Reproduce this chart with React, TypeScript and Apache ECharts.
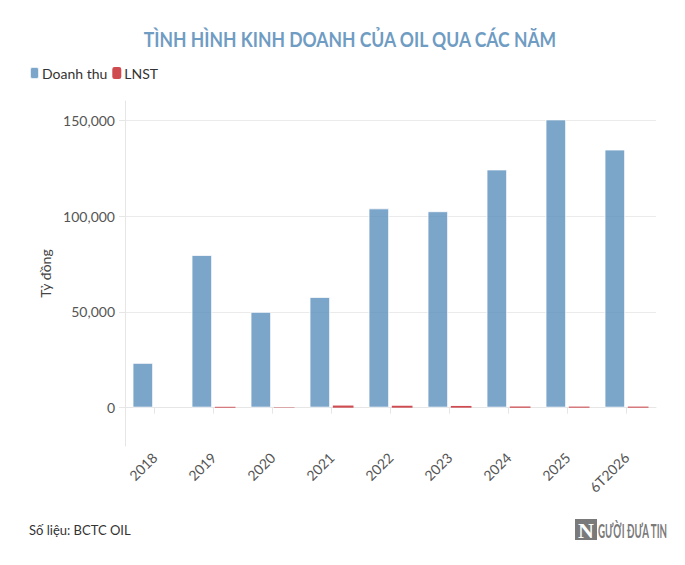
import React, { useEffect, useRef } from "react";
import * as echarts from "echarts";

const categories = ["2018", "2019", "2020", "2021", "2022", "2023", "2024", "2025", "6T2026"];
const doanhThu = [23400, 79700, 50000, 57800, 104000, 102500, 124300, 150400, 134700];
const lnst: (number | null)[] = [null, 450, 200, 1100, 1000, 900, 550, 550, 550];
const yTicks = [0, 50000, 100000, 150000];

const FONT = "Lato, 'Open Sans', 'Noto Sans', sans-serif";

export default function App() {
  const ref = useRef<HTMLDivElement>(null);
  useEffect(() => {
    if (!ref.current) return;
    const chart = echarts.init(ref.current, undefined, { renderer: "svg" });
    chart.setOption({
      animation: false,
      backgroundColor: "#ffffff",
      textStyle: { fontFamily: FONT },
      legend: {
        left: 24,
        top: 61,
        itemWidth: 9,
        itemHeight: 12,
        itemGap: 5,
        icon: "roundRect",
        textStyle: { fontSize: 14, color: "#333", fontFamily: FONT, padding: [0, 0, 0, -2] },
        data: ["Doanh thu", "LNST"],
      },
      grid: { left: 125, right: 29, top: 101, bottom: 119, containLabel: false },
      xAxis: {
        type: "category",
        data: categories,
        axisLine: { show: true, lineStyle: { color: "#e6e6e6" } },
        axisTick: { show: true, alignWithLabel: true, length: 6, lineStyle: { color: "#e6e6e6" } },
        axisLabel: { rotate: 45, fontSize: 14, color: "#555", fontFamily: FONT, margin: 9 },
      },
      yAxis: {
        type: "value",
        min: -20000,
        max: 160000,
        name: "Tỷ đồng",
        nameLocation: "middle",
        nameGap: 69,
        nameTextStyle: { fontSize: 14, color: "#444", fontFamily: FONT },
        axisLine: { show: true, lineStyle: { color: "#e6e6e6" } },
        axisTick: { show: true, length: 6, customValues: yTicks, lineStyle: { color: "#e6e6e6" } },
        axisLabel: {
          customValues: yTicks,
          fontSize: 14,
          color: "#555",
          fontFamily: FONT,
          margin: 10,
          formatter: (v: number) => v.toLocaleString("en-US"),
        },
        splitLine: { show: true, lineStyle: { color: "#ebebeb" } },
      },
      series: [
        {
          name: "Doanh thu",
          type: "bar",
          data: doanhThu,
          barWidth: "35%",
          barGap: "13%",
          itemStyle: { color: "#5a8fbb", opacity: 0.8, borderColor: "#ffffff", borderWidth: 1 },
        },
        {
          name: "LNST",
          type: "bar",
          data: lnst,
          barWidth: "35%",
          itemStyle: { color: "#c41e24", opacity: 0.8 },
        },
      ],
      graphic: [
        {
          type: "text",
          x: 350,
          y: 39,
          scaleX: 0.835,
          style: {
            text: "TÌNH HÌNH KINH DOANH CỦA OIL QUA CÁC NĂM",
            fontSize: 21,
            fontWeight: "bold",
            fontFamily: FONT,
            fill: "#6f9cc3",
            textAlign: "center",
            textVerticalAlign: "middle",
          },
        },
        {
          type: "text",
          x: 29,
          y: 530,
          style: {
            text: "Số liệu: BCTC OIL",
            fontSize: 13,
            fontFamily: FONT,
            fill: "#333",
            textAlign: "left",
            textVerticalAlign: "middle",
          },
        },
        {
          type: "rect",
          shape: { x: 575, y: 519, width: 22, height: 21 },
          style: { fill: "#7a7a7a" },
        },
        {
          type: "text",
          x: 586,
          y: 530,
          style: {
            text: "N",
            fontSize: 22,
            fontWeight: "bold",
            fontFamily: "'Liberation Serif', 'DejaVu Serif', serif",
            fill: "#ffffff",
            textAlign: "center",
            textVerticalAlign: "middle",
          },
        },
        {
          type: "text",
          x: 598,
          y: 531,
          scaleX: 0.54,
          style: {
            text: "GƯỜI ĐƯA TIN",
            fontSize: 18,
            fontWeight: "bold",
            fontFamily: FONT,
            fill: "#7a7a7a",
            textAlign: "left",
            textVerticalAlign: "middle",
          },
        },
      ],
    });
    return () => chart.dispose();
  }, []);
  return (
    <div
      ref={ref}
      style={{ position: "absolute", left: 0, top: 0, width: 685, height: 565 }}
    />
  );
}
